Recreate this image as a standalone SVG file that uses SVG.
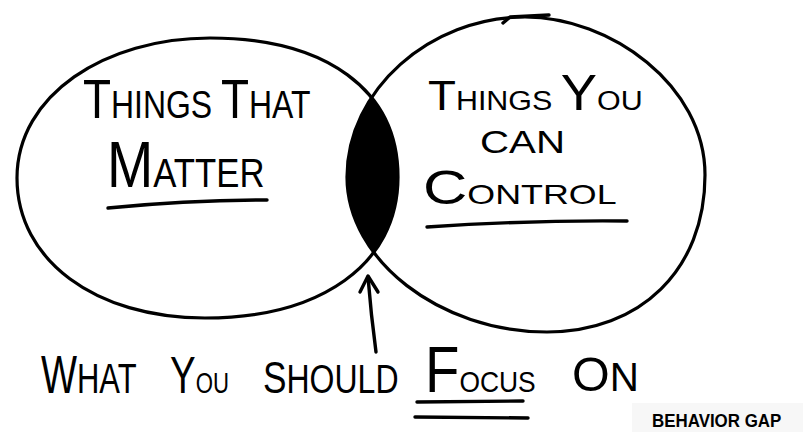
<svg xmlns="http://www.w3.org/2000/svg" width="803" height="432" viewBox="0 0 803 432">
<style>
.ring{fill:none;stroke:#000;stroke-width:3.2;stroke-linecap:round;stroke-linejoin:round}
.ln{fill:none;stroke:#000;stroke-width:3.4;stroke-linecap:round;stroke-linejoin:round}
.t{font-family:"Liberation Sans","DejaVu Sans",sans-serif;fill:#000}
</style>
<defs>
<path id="leftShape" d="M17 178 C17 95 105 38 210 38 C326 38 398 90 398 177 C398 265 320 318 205 318 C95 318 17 260 17 178 Z"/>
<path id="rightShape" d="M347 177 C347 90 430 17 525 17 C610 17 705 85 705 175 C705 270 640 332 547 332 C440 332 347 260 347 177 Z"/>
<clipPath id="clipRight"><use href="#rightShape"/></clipPath>
</defs>
<rect width="803" height="432" fill="#fff"/>
<rect x="632" y="403" width="171" height="29" fill="#f7f7f7"/>

<g id="focus-area">
<use href="#leftShape" fill="#000" clip-path="url(#clipRight)"/>
</g>

<g id="things-that-matter">
<use href="#leftShape" class="ring"/>
<text class="t" transform="translate(83 118) scale(0.819 1)" x="0" y="0" font-size="39"><tspan font-size="56">T</tspan>HINGS <tspan font-size="56">T</tspan>HAT</text>
<text class="t" transform="translate(107 187) scale(0.868 1)" x="0" y="0" font-size="40"><tspan font-size="64">M</tspan>ATTER</text>
<path class="ln" d="M108 208 Q190 200 267 200"/>
</g>

<g id="things-you-can-control">
<use href="#rightShape" class="ring"/>
<path class="ln" stroke-width="4" d="M503 23 L510 17 L549 15"/>
<text class="t" transform="translate(428 110) scale(1.088 1)" x="0" y="0" font-size="28"><tspan font-size="42">T</tspan>HINGS <tspan font-size="50">Y</tspan>OU</text>
<text class="t" transform="translate(480 153) scale(1.258 1)" x="0" y="0" font-size="32">CAN</text>
<text class="t" transform="translate(423 204) scale(1.28 1)" x="0" y="0" font-size="28"><tspan font-size="48">C</tspan>ONTROL</text>
<path class="ln" d="M427 227 Q530 220 627 221"/>
</g>

<g id="connectors">
<path class="ln" d="M376 352 Q371 315 368 277"/>
<path class="ln" d="M360 292 L368 276 L378 292"/>
</g>

<g id="caption">
<text class="t" transform="translate(41 393) scale(0.72 1)" x="0" y="0" font-size="43"><tspan font-size="53">W</tspan>HAT</text>
<text class="t" transform="translate(170 393) scale(0.74 1)" x="0" y="0" font-size="30"><tspan font-size="52">Y</tspan>OU</text>
<text class="t" transform="translate(263 393) scale(0.8 1)" x="0" y="0" font-size="40"><tspan font-size="44">S</tspan>HOULD</text>
<text class="t" transform="translate(425 392) scale(0.88 1)" x="0" y="0" font-size="30"><tspan font-size="64">F</tspan>OCUS</text>
<text class="t" transform="translate(572 391) scale(1.01 1)" x="0" y="0" font-size="40"><tspan font-size="48">O</tspan>N</text>
<path class="ln" stroke-width="4" d="M417 402 L523 401"/>
<path class="ln" stroke-width="4" d="M415 417 L528 418"/>
</g>

<g id="credit">
<text class="t" transform="translate(652 427) scale(0.94 1)" x="0" y="0" font-size="18" font-weight="bold">BEHAVIOR GAP</text>
</g>
</svg>
